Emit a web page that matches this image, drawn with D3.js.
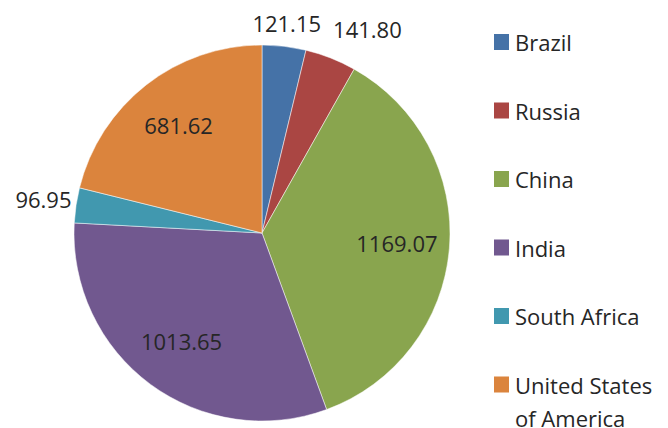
<!DOCTYPE html>
<html>
<head>
<meta charset="utf-8">
<script src="https://cdn.jsdelivr.net/npm/d3@7"></script>
<style>
  body { margin: 0; background: #fff; overflow: hidden; }
  text { font-family: "Open Sans", sans-serif; fill: #262626; }
</style>
</head>
<body>
<div id="chart"></div>
<script>
const countries = ["Brazil", "Russia", "China", "India", "South Africa", "United States of America"];
const values = [121.15, 141.80, 1169.07, 1013.65, 96.95, 681.62];
const colors = ["#4572A7", "#AA4643", "#89A54E", "#71588F", "#4198AF", "#DB843D"];

const width = 668, height = 428;
const cx = 262, cy = 233, radius = 188;

const svg = d3.select("#chart").append("svg")
  .attr("width", width)
  .attr("height", height);

const data = countries.map((c, i) => ({ name: c, value: values[i], color: colors[i] }));
const total = d3.sum(values);

const pie = d3.pie().sort(null).value(d => d.value);
const arc = d3.arc().innerRadius(0).outerRadius(radius);
const arcs = pie(data);

const g = svg.append("g").attr("transform", `translate(${cx},${cy})`);

g.selectAll("path")
  .data(arcs)
  .enter().append("path")
  .attr("d", arc)
  .attr("fill", d => d.data.color)
  .attr("stroke", "#fff")
  .attr("stroke-width", 0.5);

// labels: small slices outside the pie, the rest inside
const inner = d3.arc().innerRadius(radius * 0.72).outerRadius(radius * 0.72);

const labels = g.selectAll("text.lbl")
  .data(arcs)
  .enter().append("text")
  .attr("class", "lbl")
  .attr("text-anchor", "middle")
  .attr("dy", "0.35em")
  .style("font-size", "22px")
  .text(d => d3.format(".2f")(d.data.value));

let prevBox = null;
labels.each(function(d) {
  const small = d.data.value / total < 0.05;
  let x, y;
  if (!small) {
    [x, y] = inner.centroid(d);
  } else {
    const bb = this.getBBox();
    const a = (d.startAngle + d.endAngle) / 2;
    const s = Math.sin(a), c = -Math.cos(a);
    const dist = radius + 3 + Math.abs(s) * bb.width / 2 + Math.abs(c) * bb.height / 2;
    x = s * dist; y = c * dist;
    // push right if it runs into the previous outside label
    if (prevBox && x - bb.width / 2 < prevBox.x2 && Math.abs(y - prevBox.y) < bb.height) {
      x = prevBox.x2 + 12 + bb.width / 2;
    }
    prevBox = { x2: x + bb.width / 2, y: y };
  }
  d3.select(this).attr("transform", `translate(${x},${y})`);
});

// legend
const legend = svg.append("g").attr("transform", "translate(494,34)");
const rowH = 68.5;

const item = legend.selectAll("g")
  .data(data)
  .enter().append("g")
  .attr("transform", (d, i) => `translate(0,${i * rowH})`);

item.append("rect")
  .attr("width", 15)
  .attr("height", 16)
  .attr("fill", d => d.color);

item.append("text")
  .attr("x", 21)
  .attr("y", 17)
  .style("font-size", "22px")
  .each(function(d) {
    const t = d3.select(this);
    const lines = d.name === "United States of America" ? ["United States", "of America"] : [d.name];
    lines.forEach((l, j) => {
      t.append("tspan").attr("x", 21).attr("dy", j === 0 ? 0 : 33).text(l);
    });
  });
</script>
</body>
</html>
